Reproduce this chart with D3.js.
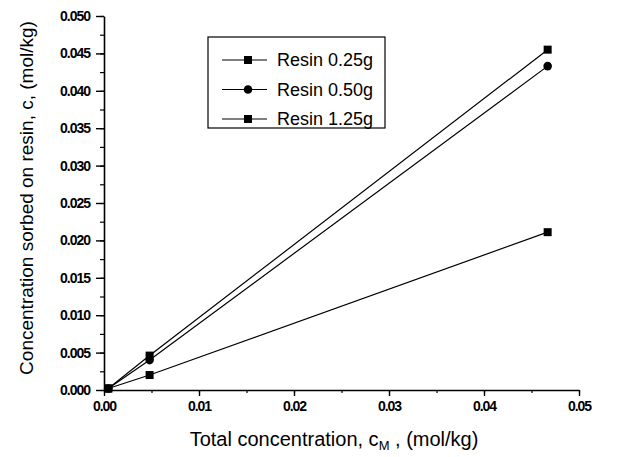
<!DOCTYPE html>
<html>
<head>
<meta charset="utf-8">
<script src="https://cdn.jsdelivr.net/npm/d3@7"></script>
<style>
  body { margin: 0; background: #fff; }
  text { font-family: "Liberation Sans", Arial, sans-serif; fill: #000; }
</style>
</head>
<body>
<script>
const seriesNames = ['Resin 0.25g', 'Resin 0.50g', 'Resin 1.25g']
const seriesMarkers = ['square', 'circle', 'square']
const totalConc = [0.00045, 0.0048, 0.0467]
const resin025 = [0.0002, 0.0046, 0.0455]
const resin050 = [0.0002, 0.0040, 0.0433]
const resin125 = [0.0002, 0.0020, 0.0211]
const xTicks = [0, 0.01, 0.02, 0.03, 0.04, 0.05]
const yTicks = [0, 0.005, 0.01, 0.015, 0.02, 0.025, 0.03, 0.035, 0.04, 0.045, 0.05]

const width = 624, height = 457
const plotLeft = 104, plotRight = 579, plotTop = 16, plotBottom = 390

const svg = d3.select('body').append('svg')
  .attr('width', width)
  .attr('height', height)

const x = d3.scaleLinear().domain([0, 0.05]).range([plotLeft, plotRight])
const y = d3.scaleLinear().domain([0, 0.05]).range([plotBottom, plotTop])

// minor ticks first, then the labelled ones
svg.append('g')
  .attr('transform', `translate(0,${plotBottom})`)
  .call(d3.axisBottom(x).tickValues(d3.range(0, 0.0501, 0.005)).tickSize(3).tickFormat(''))
  .call(g => g.select('.domain').remove())
  .selectAll('line').attr('stroke-width', 1.2)

svg.append('g')
  .attr('transform', `translate(0,${plotBottom})`)
  .call(d3.axisBottom(x).tickValues(xTicks).tickSize(6).tickPadding(5).tickFormat(d3.format('.2f')).tickSizeOuter(0))
  .call(g => g.select('.domain').attr('stroke-width', 1.6))
  .call(g => g.selectAll('line').attr('stroke-width', 1.4))
  .call(g => g.selectAll('text').attr('font-size', 14).attr('letter-spacing', -1).attr('font-weight', 'bold'))

svg.append('g')
  .attr('transform', `translate(${plotLeft},0)`)
  .call(d3.axisLeft(y).tickValues(d3.range(0, 0.0501, 0.0025)).tickSize(4).tickFormat(''))
  .call(g => g.select('.domain').remove())
  .selectAll('line').attr('stroke-width', 1.2)

svg.append('g')
  .attr('transform', `translate(${plotLeft},0)`)
  .call(d3.axisLeft(y).tickValues(yTicks).tickSize(8).tickPadding(6).tickFormat(d3.format('.3f')).tickSizeOuter(0))
  .call(g => g.select('.domain').attr('stroke-width', 1.6))
  .call(g => g.selectAll('line').attr('stroke-width', 1.4))
  .call(g => g.selectAll('text').attr('font-size', 14).attr('letter-spacing', -1).attr('font-weight', 'bold'))

// series
const allSeries = [resin025, resin050, resin125]
const line = d3.line().x(d => x(d[0])).y(d => y(d[1]))

function drawMarker(g, type, cx, cy) {
  if (type === 'square') {
    g.append('rect').attr('x', cx - 4).attr('y', cy - 4).attr('width', 8).attr('height', 8).attr('fill', '#000')
  } else {
    g.append('circle').attr('cx', cx).attr('cy', cy).attr('r', 4.3).attr('fill', '#000')
  }
}

allSeries.forEach((vals, i) => {
  const pts = totalConc.map((t, j) => [t, vals[j]])
  svg.append('path')
    .datum(pts)
    .attr('d', line)
    .attr('fill', 'none')
    .attr('stroke', '#000')
    .attr('stroke-width', 1.2)
  const g = svg.append('g')
  pts.forEach(p => drawMarker(g, seriesMarkers[i], x(p[0]), y(p[1])))
})

// legend
const legend = svg.append('g').attr('transform', 'translate(208,37)')
legend.append('rect')
  .attr('width', 177).attr('height', 91)
  .attr('fill', '#fff').attr('stroke', '#000').attr('stroke-width', 1.2)

seriesNames.forEach((name, i) => {
  const ly = 23 + i * 29.5
  legend.append('line')
    .attr('x1', 14).attr('x2', 59).attr('y1', ly).attr('y2', ly)
    .attr('stroke', '#000').attr('stroke-width', 1.2)
  drawMarker(legend, seriesMarkers[i], 40, ly)
  legend.append('text')
    .attr('x', 69).attr('y', ly)
    .attr('dy', '0.36em')
    .attr('font-size', 18)
    .text(name)
})

// axis titles
const xt = svg.append('text')
  .attr('x', 334).attr('y', 446)
  .attr('text-anchor', 'middle')
  .attr('font-size', 20)
xt.append('tspan').text('Total concentration, c')
xt.append('tspan').attr('font-size', 13).attr('dy', 4).text('M')
xt.append('tspan').attr('dy', -4).text(' , (mol/kg)')

svg.append('text')
  .attr('transform', 'translate(33,198) rotate(-90)')
  .attr('text-anchor', 'middle')
  .attr('font-size', 19)
  .text('Concentration sorbed on resin, c, (mol/kg)')
</script>
</body>
</html>
